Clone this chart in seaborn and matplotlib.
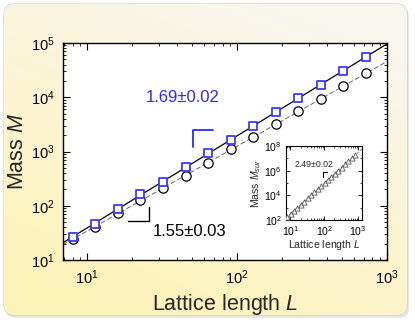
import numpy as np
import matplotlib
matplotlib.use('Agg')
import matplotlib.pyplot as plt
import matplotlib.ticker as mticker
from matplotlib.patches import FancyBboxPatch
import seaborn as sns

sns.set_style('ticks')
plt.rcParams['font.family'] = ['Liberation Sans', 'DejaVu Sans']
plt.rcParams['mathtext.fontset'] = 'custom'
plt.rcParams['mathtext.rm'] = 'Liberation Sans'
plt.rcParams['mathtext.it'] = 'Liberation Sans:italic'

# main panel: lattice length and mass of the two clusters
L = [8, 11.3, 16, 22.6, 32, 45.3, 64, 90.5, 128, 181, 256, 362, 512, 724]
M_square = [27, 46, 87, 162, 276, 508, 920, 1660, 2960, 5270, 9700, 17000, 31000, 55000]
M_circle = [24, 40, 72, 127, 214, 356, 620, 1090, 1860, 3160, 5500, 9200, 15800, 27500]
slope_square = '1.69±0.02'
slope_circle = '1.55±0.03'

# inset: surface mass
L_sur = [8, 10.1, 12.7, 16, 20.2, 25.4, 32, 40.3, 50.8, 64, 80.6, 101.6,
         128, 161, 203, 256, 323, 406, 512, 645, 813]
M_sur = [180, 310, 570, 990, 1800, 3100, 5700, 1.0e4, 1.8e4, 3.2e4, 5.5e4, 1.0e5,
         1.8e5, 3.1e5, 5.7e5, 1.0e6, 1.8e6, 3.2e6, 5.6e6, 1.0e7, 1.8e7]
slope_sur = '2.49±0.02'

W, H = 415, 325
fig = plt.figure(figsize=(W / 100, H / 100), dpi=100)
fig.patch.set_facecolor('white')

# card background with soft yellow gradient
bg = fig.add_axes([0, 0, 1, 1], zorder=-5)
bg.set_xlim(0, W)
bg.set_ylim(H, 0)
bg.axis('off')
shadow = FancyBboxPatch((6, 7), 403, 311, boxstyle='round,pad=0,rounding_size=10',
                        fc='#d8d8d8', ec='none', alpha=0.6)
bg.add_patch(shadow)
card = FancyBboxPatch((4, 4), 403, 311, boxstyle='round,pad=0,rounding_size=10',
                      fc='none', ec='#c8c8c8', lw=0.8)
bg.add_patch(card)
yy, xx = np.mgrid[0:1:200j, 0:1:200j]
t = np.clip(0.8 * yy + 0.4 * (1 - xx) - 0.1, 0, 1)
top = np.array([0.975, 0.968, 0.94])
bot = np.array([0.996, 0.95, 0.72])
grad = top[None, None, :] * (1 - t[..., None]) + bot[None, None, :] * t[..., None]
im = bg.imshow(grad, extent=(4, 407, 315, 4), aspect='auto', zorder=1)
im.set_clip_path(card)

# main axes
ax = fig.add_axes([63 / W, (H - 260) / H, 324 / W, 217 / H])
ax.set_facecolor('white')
ax.set_xscale('log')
ax.set_yscale('log')
xlim = (6.9, 1000)
ax.set_xlim(*xlim)
ax.set_ylim(10, 1e5)

xfit = np.array(xlim)
p_sq = np.polyfit(np.log10(L), np.log10(M_square), 1)
p_ci = np.polyfit(np.log10(L), np.log10(M_circle), 1)
sns.lineplot(x=xfit, y=10 ** np.polyval(p_sq, np.log10(xfit)), color='black', lw=0.9, ax=ax, zorder=2)
sns.lineplot(x=xfit, y=10 ** np.polyval(p_ci, np.log10(xfit)), color='#666666', lw=0.7, ax=ax, zorder=2)
ax.lines[-1].set_dashes((5, 2.5))
sns.scatterplot(x=L, y=M_circle, marker='o', s=45, color='white', edgecolor='black',
                linewidth=0.9, ax=ax, zorder=3)
sns.scatterplot(x=L, y=M_square, marker='s', s=40, color='white', edgecolor='#3a3aff',
                linewidth=1.3, ax=ax, zorder=4)

# slope brackets and labels
ax.plot([51, 51, 69], [1200, 2500, 2500], color='#2a2aff', lw=1.3)
ax.plot([18.8, 26, 26], [53, 53, 96], color='black', lw=1.0)
ax.text(43.6, 1.0e4, slope_square, color='#2a2aff', fontsize=12, ha='center', va='center')
ax.text(48, 33, slope_circle, color='black', fontsize=12, ha='center', va='center')

ax.set_xlabel('Lattice length $\\it{L}$', fontsize=15.5, labelpad=4)
ax.set_ylabel('Mass $\\it{M}$', fontsize=15.5, labelpad=2)
ax.tick_params(which='both', direction='in', top=True, right=True, labelsize=10.5, colors='black')
ax.tick_params(which='major', length=5, width=0.8, pad=6)
ax.tick_params(which='minor', length=2.5, width=0.6)
for s in ax.spines.values():
    s.set_linewidth(1.0)
    s.set_color('black')

# inset
ins = fig.add_axes([286 / W, (H - 220) / H, 76 / W, 74 / H])
ins.set_facecolor('white')
ins.set_xscale('log')
ins.set_yscale('log')
ins_xlim = (7.4, 1300)
ins.set_xlim(*ins_xlim)
ins.set_ylim(1e2, 1e8)
p_su = np.polyfit(np.log10(L_sur), np.log10(M_sur), 1)
xs = np.array(ins_xlim)
sns.lineplot(x=xs, y=10 ** np.polyval(p_su, np.log10(xs)), color='#777777', lw=0.6, ax=ins, zorder=2)
ins.lines[-1].set_dashes((3, 2))
sns.scatterplot(x=L_sur, y=M_sur, marker='^', s=14, color='white', edgecolor='#555555',
                linewidth=0.6, ax=ins, zorder=3)
ins.plot([0.49, 0.49, 0.545], [0.577, 0.653, 0.653], color='black', lw=0.8,
         transform=ins.transAxes)
ins.text(0.365, 0.745, slope_sur, fontsize=6.3, ha='center', va='center', transform=ins.transAxes)
ins.set_yticks([1e2, 1e4, 1e6, 1e8])
ins.yaxis.set_minor_locator(mticker.FixedLocator([1e3, 1e5, 1e7]))
ins.yaxis.set_minor_formatter(mticker.NullFormatter())
ins.set_xticks([10, 100, 1000])
ins.set_xlabel('Lattice length $\\it{L}$', fontsize=7.6, labelpad=0)
ins.set_ylabel('Mass $\\it{M}_{sur}$', fontsize=7.6, labelpad=1)
ins.tick_params(which='both', direction='in', top=True, right=True, labelsize=7.5, colors='black')
ins.tick_params(which='major', length=3, width=0.6, pad=3)
ins.tick_params(which='minor', length=1.5, width=0.5)
for s in ins.spines.values():
    s.set_linewidth(0.8)
    s.set_color('black')

fig.savefig('out.png', dpi=100)
